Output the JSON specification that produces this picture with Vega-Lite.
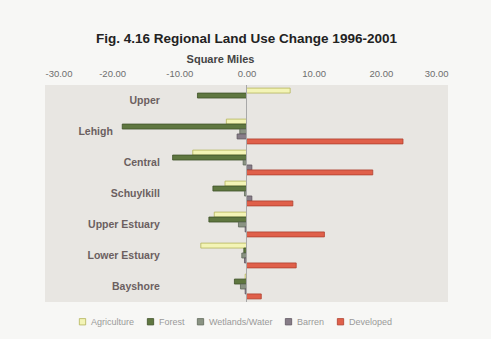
{
  "$schema": "https://vega.github.io/schema/vega-lite/v6.json",
  "autosize": "none",
  "width": 403,
  "height": 217,
  "padding": {"left": 45, "top": 85, "right": 43, "bottom": 37},
  "background": "#f7f7f5",
  "title": {
    "text": "Fig. 4.16 Regional Land Use Change 1996-2001",
    "fontSize": 13.5,
    "fontWeight": "bold",
    "font": "Liberation Sans",
    "color": "#222222",
    "anchor": "middle",
    "offset": 8
  },
  "config": {
    "font": "Liberation Sans",
    "view": {"fill": "#e8e6e2", "stroke": null}
  },
  "data": {
    "values": [
      {"region": "Upper", "type": "Agriculture", "value": 6.5},
      {"region": "Upper", "type": "Forest", "value": -7.3},
      {"region": "Upper", "type": "Wetlands/Water", "value": 0},
      {"region": "Upper", "type": "Barren", "value": 0},
      {"region": "Upper", "type": "Developed", "value": 0},
      {"region": "Lehigh", "type": "Agriculture", "value": -3.0},
      {"region": "Lehigh", "type": "Forest", "value": -18.5},
      {"region": "Lehigh", "type": "Wetlands/Water", "value": -1.0},
      {"region": "Lehigh", "type": "Barren", "value": -1.4},
      {"region": "Lehigh", "type": "Developed", "value": 23.3},
      {"region": "Central", "type": "Agriculture", "value": -8.0},
      {"region": "Central", "type": "Forest", "value": -11.0},
      {"region": "Central", "type": "Wetlands/Water", "value": -0.5},
      {"region": "Central", "type": "Barren", "value": 0.8},
      {"region": "Central", "type": "Developed", "value": 18.8},
      {"region": "Schuylkill", "type": "Agriculture", "value": -3.2},
      {"region": "Schuylkill", "type": "Forest", "value": -5.0},
      {"region": "Schuylkill", "type": "Wetlands/Water", "value": -0.3},
      {"region": "Schuylkill", "type": "Barren", "value": 0.8},
      {"region": "Schuylkill", "type": "Developed", "value": 6.9},
      {"region": "Upper Estuary", "type": "Agriculture", "value": -4.8},
      {"region": "Upper Estuary", "type": "Forest", "value": -5.6},
      {"region": "Upper Estuary", "type": "Wetlands/Water", "value": -1.2},
      {"region": "Upper Estuary", "type": "Barren", "value": -0.2},
      {"region": "Upper Estuary", "type": "Developed", "value": 11.6},
      {"region": "Lower Estuary", "type": "Agriculture", "value": -6.8},
      {"region": "Lower Estuary", "type": "Forest", "value": -0.4},
      {"region": "Lower Estuary", "type": "Wetlands/Water", "value": -0.7},
      {"region": "Lower Estuary", "type": "Barren", "value": -0.3},
      {"region": "Lower Estuary", "type": "Developed", "value": 7.4},
      {"region": "Bayshore", "type": "Agriculture", "value": -0.2},
      {"region": "Bayshore", "type": "Forest", "value": -1.8},
      {"region": "Bayshore", "type": "Wetlands/Water", "value": -0.9},
      {"region": "Bayshore", "type": "Barren", "value": -0.2},
      {"region": "Bayshore", "type": "Developed", "value": 2.2}
    ]
  },
  "layer": [
    {
      "mark": {"type": "bar", "strokeWidth": 0.8},
      "encoding": {
        "x": {
          "field": "value",
          "type": "quantitative",
          "scale": {"domain": [-30, 30], "nice": false, "zero": false},
          "axis": {
            "orient": "top",
            "values": [-30, -20, -10, 0, 10, 20, 30],
            "format": ".2f",
            "labelExpr": "replace(datum.label, '\u2212', '-')",
            "labelFontSize": 9.5,
            "labelColor": "#6e6e6e",
            "labelPadding": 7,
            "ticks": false,
            "domain": false,
            "grid": false,
            "title": "Square Miles",
            "titleFontSize": 11,
            "titleFontWeight": "bold",
            "titleColor": "#444444",
            "titlePadding": 4,
            "titleX": 175
          }
        },
        "y": {
          "field": "region",
          "type": "nominal",
          "sort": ["Upper", "Lehigh", "Central", "Schuylkill", "Upper Estuary", "Lower Estuary", "Bayshore"],
          "scale": {"paddingInner": 0.2, "paddingOuter": 0.1},
          "axis": null
        },
        "yOffset": {
          "field": "type",
          "type": "nominal",
          "sort": ["Agriculture", "Forest", "Wetlands/Water", "Barren", "Developed"],
          "scale": {"paddingInner": 0, "paddingOuter": 0}
        },
        "color": {
          "field": "type",
          "type": "nominal",
          "sort": ["Agriculture", "Forest", "Wetlands/Water", "Barren", "Developed"],
          "scale": {
            "domain": ["Agriculture", "Forest", "Wetlands/Water", "Barren", "Developed"],
            "range": ["#f3f4b6", "#5f7740", "#8a9383", "#877d88", "#e0604a"]
          },
          "legend": {
            "orient": "none",
            "legendX": 33,
            "legendY": 232,
            "direction": "horizontal",
            "title": null,
            "symbolType": "square",
            "symbolSize": 40,
            "symbolStrokeWidth": 0.8,
            "labelFontSize": 9,
            "labelColor": "#9a9a9a",
            "columnPadding": 10
          }
        },
        "stroke": {
          "field": "type",
          "type": "nominal",
          "sort": ["Agriculture", "Forest", "Wetlands/Water", "Barren", "Developed"],
          "scale": {
            "domain": ["Agriculture", "Forest", "Wetlands/Water", "Barren", "Developed"],
            "range": ["#b4b45a", "#3f5028", "#5f6a5a", "#5e5560", "#b0402f"]
          }
        }
      }
    },
    {
      "mark": {"type": "rule", "color": "#a8a8a8", "strokeWidth": 1},
      "encoding": {"x": {"datum": 0}}
    },
    {
      "transform": [{"filter": "datum.type === 'Agriculture' && datum.region !== 'Lehigh'"}],
      "mark": {"type": "text", "align": "right", "baseline": "middle", "fontSize": 10.5, "fontWeight": "bold", "color": "#6b5f60"},
      "encoding": {
        "x": {"datum": -12.9},
        "y": {"field": "region", "type": "nominal", "sort": ["Upper", "Lehigh", "Central", "Schuylkill", "Upper Estuary", "Lower Estuary", "Bayshore"], "axis": null},
        "text": {"field": "region", "type": "nominal"}
      }
    },
    {
      "transform": [{"filter": "datum.type === 'Agriculture' && datum.region === 'Lehigh'"}],
      "mark": {"type": "text", "align": "right", "baseline": "middle", "fontSize": 10.5, "fontWeight": "bold", "color": "#6b5f60"},
      "encoding": {
        "x": {"datum": -19.9},
        "y": {"field": "region", "type": "nominal", "sort": ["Upper", "Lehigh", "Central", "Schuylkill", "Upper Estuary", "Lower Estuary", "Bayshore"], "axis": null},
        "text": {"field": "region", "type": "nominal"}
      }
    }
  ]
}
